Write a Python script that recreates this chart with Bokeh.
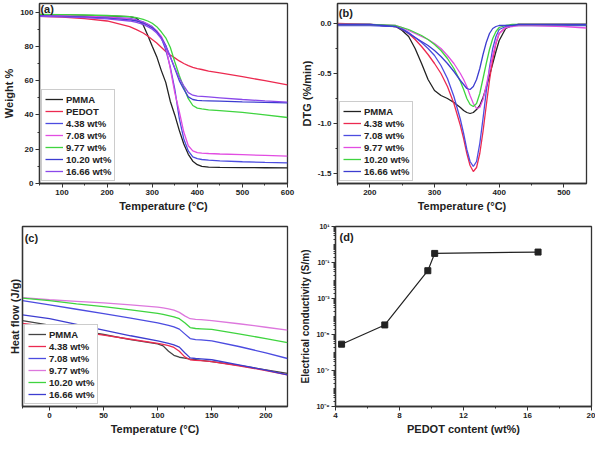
from bokeh.plotting import figure
from bokeh.layouts import column, row
from bokeh.models import Range1d, Label, FixedTicker, NumeralTickFormatter
from bokeh.embed import file_html
from bokeh.resources import INLINE

FONT = "Liberation Sans"

# ---------------- (a) TGA ----------------
A_T = [50, 100, 150, 200, 250, 265, 280, 290, 300, 310, 320, 330, 340, 350, 360, 370, 380, 390, 400, 410, 425, 450, 500, 550, 600]
A_PMMA = [98.5, 98.3, 98.1, 97.8, 97.3, 96.5, 92.5, 86.5, 80, 74, 66, 59, 48, 40, 31, 23, 17, 13, 11, 10, 9.6, 9.4, 9.3, 9.2, 9.1]
A_PEDOT = [97.5, 97, 96.2, 94.8, 91.5, 89.8, 87.8, 86, 84, 82, 79.5, 77, 75, 73.3, 71.5, 70, 68.8, 67.8, 67, 66.5, 65.6, 64.5, 62.3, 60, 57.5]
A_438 = [98, 97.8, 97.5, 97, 96.3, 95.5, 94.3, 93, 91.5, 89, 85, 78, 68, 55, 38, 26, 19, 15.5, 14.5, 14, 13.6, 13.2, 12.7, 12.3, 12]
A_708 = [98.3, 98, 97.6, 97, 96, 95.2, 94, 92.8, 91.2, 89, 86, 80.5, 67, 53, 42, 30, 22, 19, 18, 17.7, 17.5, 17.2, 16.8, 16.4, 16]
A_977 = [98.7, 98.5, 98.3, 98, 97.3, 96.7, 95.8, 94.8, 93.5, 91.5, 88.5, 85, 79.5, 71, 63, 56, 49.5, 45.5, 44, 43.5, 43, 42.5, 41.5, 40, 38.5]
A_1020 = [97.8, 97.5, 97, 96.5, 95.5, 94.8, 93.5, 92.3, 90.8, 88.5, 85, 80.5, 74, 67, 60, 55, 50.5, 49, 48.5, 48.3, 48.2, 48, 47.6, 47.3, 47]
A_1666 = [97.5, 97.2, 96.8, 96, 94.8, 94, 92.8, 91.5, 90, 87.8, 84.5, 80, 74, 67.5, 61.5, 57, 53, 51.5, 51, 50.8, 50.5, 50, 49, 48.2, 47.5]
A_XTICKS = [100, 200, 300, 400, 500, 600]
A_YTICKS = [0, 20, 40, 60, 80, 100]

# ---------------- (b) DTG ----------------
B_T = [150, 200, 240, 250, 260, 270, 280, 290, 300, 310, 320, 330, 340, 345, 350, 355, 360, 365, 370, 375, 380, 385, 390, 395, 400, 410, 420, 430, 450, 500, 535]
B_PMMA = [-0.01, -0.01, -0.03, -0.07, -0.13, -0.25, -0.4, -0.56, -0.67, -0.72, -0.75, -0.79, -0.84, -0.87, -0.89, -0.9, -0.89, -0.86, -0.82, -0.74, -0.64, -0.52, -0.4, -0.28, -0.17, -0.05, -0.02, -0.01, -0.01, -0.01, -0.01]
B_438 = [0, -0.01, -0.03, -0.06, -0.1, -0.16, -0.23, -0.31, -0.4, -0.5, -0.63, -0.8, -1.02, -1.15, -1.3, -1.42, -1.48, -1.44, -1.3, -1.08, -0.82, -0.57, -0.36, -0.2, -0.1, -0.04, -0.02, -0.01, -0.01, -0.01, -0.01]
B_708 = [-0.02, -0.02, -0.03, -0.05, -0.09, -0.14, -0.19, -0.25, -0.32, -0.42, -0.55, -0.73, -0.96, -1.1, -1.26, -1.38, -1.43, -1.38, -1.2, -0.95, -0.68, -0.44, -0.25, -0.13, -0.06, -0.03, -0.02, -0.02, -0.02, -0.02, -0.02]
B_977 = [-0.01, -0.01, -0.02, -0.04, -0.07, -0.1, -0.13, -0.16, -0.2, -0.25, -0.32, -0.4, -0.5, -0.56, -0.63, -0.72, -0.8, -0.85, -0.84, -0.76, -0.62, -0.47, -0.32, -0.19, -0.1, -0.04, -0.03, -0.02, -0.02, -0.03, -0.045]
B_1020 = [-0.01, -0.01, -0.02, -0.04, -0.06, -0.09, -0.12, -0.16, -0.21, -0.27, -0.35, -0.45, -0.58, -0.66, -0.75, -0.81, -0.83, -0.8, -0.7, -0.55, -0.4, -0.26, -0.15, -0.08, -0.04, -0.02, -0.01, -0.01, -0.01, -0.01, -0.01]
B_1666 = [-0.01, -0.01, -0.03, -0.06, -0.1, -0.14, -0.18, -0.22, -0.27, -0.33, -0.4, -0.48, -0.57, -0.61, -0.65, -0.66, -0.63, -0.56, -0.45, -0.31, -0.19, -0.1, -0.05, -0.03, -0.02, -0.02, -0.02, -0.01, -0.01, -0.01, -0.01]
B_XTICKS = [200, 300, 400, 500]
B_YTICKS = [-1.5, -1.0, -0.5, 0.0]

# ---------------- (c) DSC ----------------
C_T = [-25, 0, 25, 50, 75, 100, 105, 110, 115, 120, 125, 130, 135, 140, 150, 175, 200, 220]
C_PMMA = [27.2, 25.8, 24.2, 22.8, 21.2, 19.8, 19.2, 17.5, 16.2, 15.6, 15.3, 15.0, 14.8, 14.6, 14.2, 13.0, 11.6, 10.5]
C_438 = [26.3, 25.2, 23.8, 22.6, 21.3, 20.0, 19.7, 19.3, 18.7, 17.5, 15.7, 14.8, 14.6, 14.5, 14.2, 12.9, 11.4, 10.0]
C_708 = [33.5, 32.2, 30.8, 29.4, 28.0, 26.5, 26.1, 25.7, 25.2, 24.5, 23.0, 21.5, 21.2, 21.1, 20.8, 19.0, 17.0, 15.2]
C_977 = [34.5, 33.8, 33.3, 32.8, 32.2, 31.5, 31.2, 30.9, 30.5, 29.8, 28.7, 27.8, 27.6, 27.5, 27.2, 26.2, 25.1, 24.2]
C_1020 = [34.3, 33.5, 32.5, 31.6, 30.6, 29.5, 29.2, 28.8, 28.4, 27.8, 26.5, 25.0, 24.7, 24.6, 24.4, 23.0, 21.5, 20.2]
C_1666 = [29.0, 27.8, 26.0, 24.2, 22.4, 20.8, 20.4, 20.0, 19.5, 18.8, 17.0, 15.4, 15.2, 15.1, 14.8, 13.2, 11.5, 10.0]
C_XTICKS = [0, 50, 100, 150, 200]

# ---------------- (d) conductivity ----------------
D_PEDOT = [4.38, 7.08, 9.77, 10.20, 16.66]
D_COND = [2.9e-6, 3.4e-5, 3.5e-2, 3.2e-1, 3.8e-1]
D_XTICKS = [4, 8, 12, 16, 20]
D_YTICKS = [1e-9, 1e-7, 1e-5, 1e-3, 1e-1, 1e1]
D_YTICK_LABELS = ["10\u207b\u2079", "10\u207b\u2077", "10\u207b\u2075", "10\u207b\u00b3", "10\u207b\u00b9", "10\u00b9"]

BLACK = "#222222"
RED = "#ec2a50"
BLUE = "#4c4ce0"
BLUE2 = "#3d3dd0"
MAGENTA = "#e24de2"
GREEN = "#3fd43f"
VIOLET = "#8a48ea"


def base(width, height, xr, yr, y_type="linear", mb=(3, 10)):
    p = figure(width=width, height=height, x_range=Range1d(*xr), y_range=Range1d(*yr),
               y_axis_type=y_type, output_backend="svg", toolbar_location=None)
    p.min_border_left = 0
    p.min_border_bottom = 0
    p.min_border_top = mb[0]
    p.min_border_right = mb[1]
    p.grid.visible = False
    p.outline_line_color = "#333333"
    p.outline_line_width = 1.3
    p.background_fill_color = "white"
    for ax in p.axis:
        ax.axis_line_color = "#333333"
        ax.axis_line_width = 1.3
        ax.major_tick_out = 4
        ax.major_tick_in = 0
        ax.minor_tick_out = 2
        ax.minor_tick_in = 0
        ax.major_tick_line_color = "#333333"
        ax.minor_tick_line_color = "#333333"
        ax.major_label_text_font = FONT
        ax.major_label_text_font_size = "8px"
        ax.major_label_text_font_style = "bold"
        ax.major_label_text_color = "#222222"
        ax.major_label_standoff = 2
        ax.axis_label_text_font = FONT
        ax.axis_label_text_font_size = "11px"
        ax.axis_label_text_font_style = "bold"
        ax.axis_label_text_color = "#222222"
        ax.axis_label_standoff = 2
    return p


def style_legend(p):
    lg = p.legend[0]
    lg.location = "bottom_left"
    lg.label_text_font = FONT
    lg.label_text_font_size = "9.5px"
    lg.label_text_font_style = "bold"
    lg.label_text_color = "#222222"
    lg.glyph_width = 18
    lg.glyph_height = 12
    lg.label_height = 12
    lg.label_standoff = 3
    lg.spacing = 0
    lg.padding = 3
    lg.margin = 2
    lg.border_line_color = "#999999"
    lg.border_line_width = 1
    lg.background_fill_alpha = 1


def panel_label(p, x, y, text):
    p.add_layout(Label(x=x, y=y, text=text, text_font=FONT, text_font_size="11px",
                       text_font_style="bold", text_baseline="middle", text_color="#222222"))


LW = 1.3

# (a)
pa = base(297, 214, (50, 600), (0, 105), mb=(3, 10))
for ys, c, name in [(A_PMMA, BLACK, "PMMA"), (A_PEDOT, RED, "PEDOT"), (A_438, BLUE, "4.38 wt%"),
                    (A_708, MAGENTA, "7.08 wt%"), (A_977, GREEN, "9.77 wt%"),
                    (A_1020, BLUE2, "10.20 wt%"), (A_1666, VIOLET, "16.66 wt%")]:
    pa.line(A_T, ys, line_color=c, line_width=LW, legend_label=name)
pa.xaxis.ticker = FixedTicker(ticks=A_XTICKS, minor_ticks=list(range(50, 601, 50)))
pa.yaxis.ticker = FixedTicker(ticks=A_YTICKS, minor_ticks=list(range(0, 106, 10)))
pa.xaxis.axis_label = "Temperature (°C)"
pa.yaxis.axis_label = "Weight %"
style_legend(pa)
panel_label(pa, 52, 102, "(a)")

# (b)
pb = base(298, 214, (150, 535), (-1.6, 0.2), mb=(3, 9))
for ys, c, name in [(B_PMMA, BLACK, "PMMA"), (B_438, RED, "4.38 wt%"), (B_708, BLUE, "7.08 wt%"),
                    (B_977, MAGENTA, "9.77 wt%"), (B_1020, GREEN, "10.20 wt%"), (B_1666, BLUE2, "16.66 wt%")]:
    pb.line(B_T, ys, line_color=c, line_width=LW, legend_label=name)
pb.xaxis.ticker = FixedTicker(ticks=B_XTICKS, minor_ticks=list(range(150, 536, 50)))
pb.yaxis.ticker = FixedTicker(ticks=B_YTICKS, minor_ticks=[-1.5, -1.25, -1.0, -0.75, -0.5, -0.25, 0.0])
pb.yaxis.formatter = NumeralTickFormatter(format="0.0")
pb.xaxis.axis_label = "Temperature (°C)"
pb.yaxis.axis_label = "DTG (%/min)"
style_legend(pb)
panel_label(pb, 152, 0.11, "(b)")

# (c)
pc = base(297, 223, (-25, 220), (0, 57), mb=(6, 10))
pc.min_border_left = 22
for ys, c, name in [(C_PMMA, "#444444", "PMMA"), (C_438, RED, "4.38 wt%"), (C_708, BLUE, "7.08 wt%"),
                    (C_977, "#dd77dd", "9.77 wt%"), (C_1020, GREEN, "10.20 wt%"), (C_1666, BLUE2, "16.66 wt%")]:
    pc.line(C_T, ys, line_color=c, line_width=LW, legend_label=name)
pc.xaxis.ticker = FixedTicker(ticks=C_XTICKS, minor_ticks=list(range(-25, 221, 25)))
pc.yaxis.ticker = FixedTicker(ticks=[], minor_ticks=[])
pc.yaxis.major_label_text_font_size = "0px"
pc.xaxis.axis_label = "Temperature (°C)"
pc.yaxis.axis_label = "Heat flow (J/g)"
style_legend(pc)
panel_label(pc, -23, 53.5, "(c)")

# (d)
pd_ = base(298, 223, (4, 20), (1e-9, 1e1), y_type="log", mb=(12, 4))
pd_.line(D_PEDOT, D_COND, line_color=BLACK, line_width=1.2)
pd_.scatter(D_PEDOT, D_COND, marker="square", size=6, fill_color=BLACK, line_color=BLACK)
pd_.xaxis.ticker = FixedTicker(ticks=D_XTICKS, minor_ticks=list(range(4, 21, 2)))
minor = []
for e in range(-9, 1):
    for m in range(1, 10):
        minor.append(m * 10.0 ** e)
minor.append(10.0)
pd_.yaxis.ticker = FixedTicker(ticks=D_YTICKS, minor_ticks=minor)
pd_.yaxis.major_label_overrides = {t: l for t, l in zip(D_YTICKS, D_YTICK_LABELS)}
pd_.yaxis.major_label_text_font_size = "7px"
pd_.xaxis.axis_label = "PEDOT content (wt%)"
pd_.yaxis.axis_label = "Electrical conductivity (S/m)"
pd_.yaxis.axis_label_text_font_size = "10px"
panel_label(pd_, 4.25, 2.5, "(d)")

layout = column(row(pa, pb), row(pc, pd_))
open("out.html", "w").write(file_html(layout, INLINE))
